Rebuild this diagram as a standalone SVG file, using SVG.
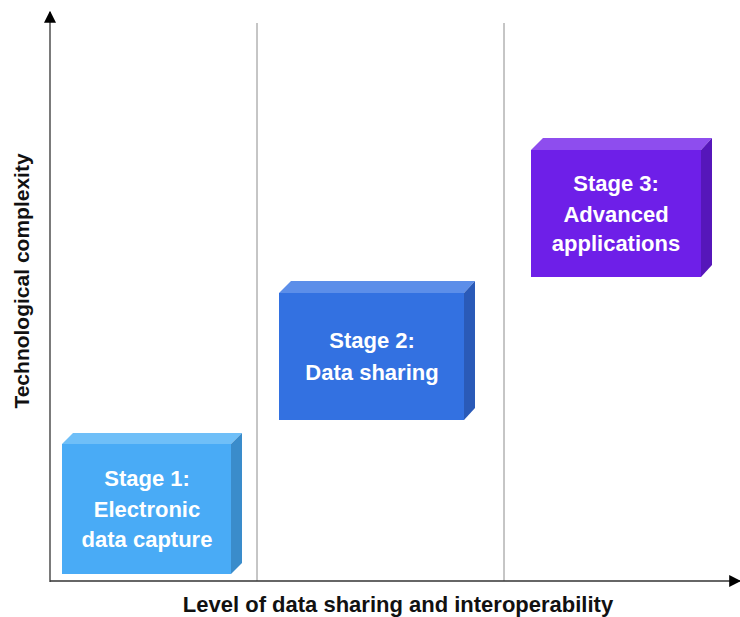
<svg xmlns="http://www.w3.org/2000/svg" width="740" height="617" viewBox="0 0 740 617">
<defs>
<style>
.lbl{font-family:"Liberation Sans",Arial,sans-serif;font-weight:bold;font-size:22px;fill:#fff;text-anchor:middle}
.ax{font-family:"Liberation Sans",Arial,sans-serif;font-weight:bold;fill:#111;text-anchor:middle}
.grid{stroke:#8c8c8c;stroke-width:1}
.axis{stroke:#333;stroke-width:1.3;fill:none}
</style>
<marker id="arr" viewBox="0 0 10 10" refX="9" refY="5" markerWidth="12" markerHeight="12" markerUnits="userSpaceOnUse" orient="auto">
<path d="M0,0 L10,5 L0,10 Z" fill="#000"/>
</marker>
</defs>
<rect width="740" height="617" fill="#fff"/>
<g id="connectors">
<line class="grid" x1="257" y1="23" x2="257" y2="581"/>
<line class="grid" x1="504" y1="23" x2="504" y2="581"/>
<line class="axis" x1="50" y1="582" x2="50" y2="12" marker-end="url(#arr)"/>
<line class="axis" x1="50" y1="581" x2="740" y2="581" marker-end="url(#arr)"/>
</g>
<g id="stage1">
<polygon points="62,444 73,433 242,433 231,444" fill="#6fbff8"/>
<polygon points="231,444 242,433 242,563 231,574" fill="#3a8ccb"/>
<rect x="62" y="444" width="169" height="130" fill="#49abf6"/>
<text class="lbl" x="147" y="486">Stage 1:</text>
<text class="lbl" x="147" y="517">Electronic</text>
<text class="lbl" x="147" y="547">data capture</text>
</g>
<g id="stage2">
<polygon points="279,293 291,281 475,281 464,293" fill="#5c8ee9"/>
<polygon points="464,293 475,281 475,408 464,420" fill="#2a5ab8"/>
<rect x="279" y="293" width="185" height="127" fill="#3371e1"/>
<text class="lbl" x="372" y="348">Stage 2:</text>
<text class="lbl" x="372" y="380">Data sharing</text>
</g>
<g id="stage3">
<polygon points="531,150 543,138 712,138 701,150" fill="#8e4dee"/>
<polygon points="701,150 712,138 712,265 701,277" fill="#5616ba"/>
<rect x="531" y="150" width="170" height="127" fill="#6e1fe8"/>
<text class="lbl" x="616" y="191">Stage 3:</text>
<text class="lbl" x="616" y="222">Advanced</text>
<text class="lbl" x="616" y="251">applications</text>
</g>
<g id="axis-labels">
<text class="ax" x="398" y="612" font-size="22">Level of data sharing and interoperability</text>
<text class="ax" transform="translate(29,281) rotate(-90)" x="0" y="0" font-size="21">Technological complexity</text>
</g>
</svg>
